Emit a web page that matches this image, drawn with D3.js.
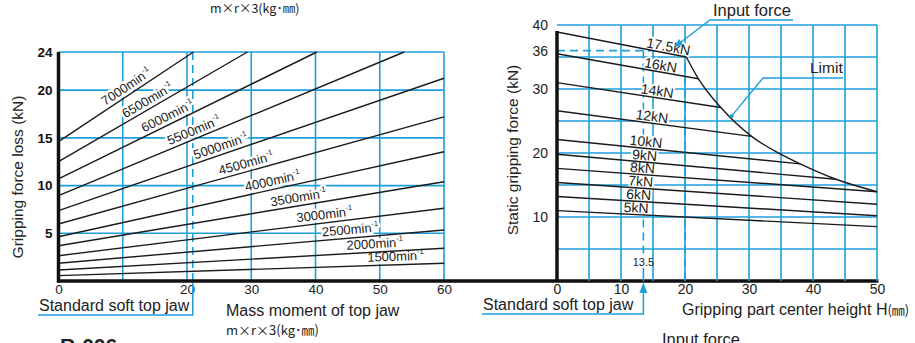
<!DOCTYPE html>
<html><head><meta charset="utf-8">
<script src="https://cdn.jsdelivr.net/npm/d3@7"></script>
<style>
html,body{margin:0;padding:0;background:#fff;}
svg{display:block;font-family:"Liberation Sans",Arial,Helvetica,sans-serif;}
</style></head><body>
<svg id="c" width="915" height="343"></svg>
<script>
// ---------- DATA: left chart (gripping force loss vs mass moment of top jaw) ----------
const speeds        = [7000, 6500, 6000, 5500, 5000, 4500, 4000, 3500, 3000, 2500, 2000, 1500];
const lossAtZero    = [14.6, 12.5, 10.7, 8.94, 7.37, 5.97, 4.64, 3.70, 2.65, 1.86, 1.15, 0.56];
const lossEndMoment = [21.0, 29.4, 40.2, 53.8, 60, 60, 60, 60, 60, 60, 60, 60];
const lossEndValue  = [24, 24, 24, 24, 21.25, 17.2, 13.55, 10.4, 7.62, 5.35, 3.43, 1.86];
const leftXTicks    = [0, 20, 30, 40, 50, 60];
const leftYTicks    = [5, 10, 15, 20, 24];
const leftGridX     = [10, 20, 30, 40, 50, 60];
const leftGridY     = [5, 10, 15, 20, 24];
const stdJawMoment  = 20.9;

// ---------- DATA: right chart (static gripping force vs gripping part center height) ----------
const inputForces   = ["17.5kN", "16kN", "14kN", "12kN", "10kN", "9kN", "8kN", "7kN", "6kN", "5kN"];
const gripAtZero    = [38.9, 35.5, 31.0, 26.6, 22.1, 19.8, 17.6, 15.4, 13.2, 11.0];
const gripEndH      = [20.2, 22.1, 25.6, 30.4, 38.0, 43.6, 50, 50, 50, 50];
const gripEndValue  = [35.0, 31.6, 27.1, 22.6, 18.3, 15.9, 13.95, 12.0, 10.2, 8.5];
const limitH        = [20.2, 22.1, 25.6, 30.4, 34.8, 38.0, 43.6, 50];
const limitF        = [35.0, 31.6, 27.1, 22.6, 19.9, 18.3, 15.9, 13.95];
const rightXTicks   = [0, 10, 20, 30, 40, 50];
const rightYTicks   = [10, 20, 30, 36, 40];
const rightGridX    = [5, 10, 15, 20, 25, 30, 35, 40, 45, 50];
const rightGridY    = [5, 10, 15, 20, 25, 30, 35, 40];
const stdJawH       = 13.5;
const refForce      = 36;
const refH          = 20;

// ---------- SETUP ----------
const BLUE = "#1c9fdb", INK = "#1b1b1b";
const svg = d3.select("#c");
const xL = d3.scaleLinear().domain([0, 60]).range([58.5, 444]);
const yL = d3.scaleLinear().domain([0, 24]).range([281, 52]);
const xR = d3.scaleLinear().domain([0, 50]).range([557, 877]);
const yR = d3.scaleLinear().domain([0, 40]).range([281, 25]);

function halo(sel, w) {
  return sel.attr("stroke", "#fff").attr("stroke-width", w).attr("paint-order", "stroke").attr("stroke-linejoin", "round");
}

// top cropped caption
svg.append("text").attr("x", 210).attr("y", 13).attr("font-size", 12.5)
  .attr("font-family", "'Noto Sans CJK JP',sans-serif").attr("fill", "#222").text("m×r×3(kg･㎜)");

// ================= LEFT CHART =================
const gL = svg.append("g");
gL.selectAll(".gx").data(leftGridX).join("line")
  .attr("x1", d => xL(d)).attr("x2", d => xL(d)).attr("y1", yL(0)).attr("y2", yL(24))
  .attr("stroke", BLUE).attr("stroke-width", 1.6);
gL.selectAll(".gy").data(leftGridY).join("line")
  .attr("x1", xL(0)).attr("x2", xL(60)).attr("y1", d => yL(d)).attr("y2", d => yL(d))
  .attr("stroke", BLUE).attr("stroke-width", 1.6);
gL.append("line").attr("x1", xL(stdJawMoment)).attr("x2", xL(stdJawMoment)).attr("y1", yL(24)).attr("y2", yL(0))
  .attr("stroke", BLUE).attr("stroke-width", 1.6).attr("stroke-dasharray", "8,5");

// labels (with white halo to cut the grid)
const labelAtL = [7.6, 10.7, 13.6, 17.5, 21.5, 25.3, 29.3, 33.2, 37.2, 41.1, 44.9, 48.1];
speeds.forEach((s, i) => {
  const slope = (lossEndValue[i] - lossAtZero[i]) / (lossEndMoment[i]);
  const mx = labelAtL[i], my = lossAtZero[i] + slope * mx;
  const ang = Math.atan2(yL(lossAtZero[i] + slope * 10) - yL(lossAtZero[i]), xL(10) - xL(0)) * 180 / Math.PI;
  const t = gL.append("text")
    .attr("transform", `translate(${xL(mx)},${yL(my)}) rotate(${ang})`)
    .attr("dy", -4).attr("font-size", 13).attr("fill", INK);
  halo(t, 5);
  t.append("tspan").text(s + "min");
  t.append("tspan").attr("dy", -6).attr("font-size", 7.5).text("-1");
});

// lines
speeds.forEach((s, i) => {
  gL.append("path")
    .attr("d", d3.line()([[xL(0), yL(lossAtZero[i])], [xL(lossEndMoment[i]), yL(lossEndValue[i])]]))
    .attr("stroke", INK).attr("stroke-width", 1.4).attr("fill", "none");
});

// axes tick labels
const axL = gL.append("g").attr("transform", `translate(${xL(0)},0)`)
  .call(d3.axisLeft(yL).tickValues(leftYTicks).tickSize(0).tickPadding(6));
axL.select(".domain").remove();
axL.selectAll("text").attr("font-size", 13.5).attr("font-weight", "bold").attr("fill", "#111")
  .attr("font-family", "'Liberation Sans',Arial,sans-serif");
const axLB = gL.append("g").attr("transform", `translate(0,${yL(0)})`)
  .call(d3.axisBottom(xL).tickValues(leftXTicks).tickSize(0).tickPadding(3));
axLB.select(".domain").remove();
axLB.selectAll("text").attr("font-size", 13.5).attr("fill", "#222")
  .attr("font-family", "'Liberation Sans',Arial,sans-serif");

// thick axes
gL.append("line").attr("x1", xL(0)).attr("x2", xL(0)).attr("y1", yL(24)).attr("y2", yL(0) + 1.5)
  .attr("stroke", "#111").attr("stroke-width", 3.5);
svg.append("line").attr("x1", xL(0) - 1.5).attr("x2", xR(50) + 1.5).attr("y1", yL(0)).attr("y2", yL(0))
  .attr("stroke", "#111").attr("stroke-width", 3.5);

// titles
svg.append("text").attr("transform", `translate(23,177) rotate(-90)`).attr("text-anchor", "middle")
  .attr("font-size", 15.5).attr("fill", "#222").text("Gripping force loss (kN)");
svg.append("text").attr("x", 226).attr("y", 316).attr("font-size", 16).attr("fill", "#222").text("Mass moment of top jaw");
svg.append("text").attr("x", 226).attr("y", 335).attr("font-size", 13)
  .attr("font-family", "'Noto Sans CJK JP',sans-serif").attr("fill", "#222").text("m×r×3(kg･㎜)");

// standard soft top jaw bracket (left)
svg.append("text").attr("x", 39).attr("y", 311).attr("font-size", 16).attr("fill", "#222").text("Standard soft top jaw");
svg.append("path").attr("d", d3.line()([[38, 315], [xL(stdJawMoment), 315], [xL(stdJawMoment), yL(0) + 2]]))
  .attr("stroke", BLUE).attr("stroke-width", 1.5).attr("fill", "none");

// cropped page marker
svg.append("text").attr("x", 60).attr("y", 353).attr("font-size", 21).attr("font-weight", "bold").attr("fill", "#222").text("R-006");

// ================= RIGHT CHART =================
const gR = svg.append("g");
gR.selectAll(".gx").data(rightGridX).join("line")
  .attr("x1", d => xR(d)).attr("x2", d => xR(d)).attr("y1", yR(0)).attr("y2", yR(40))
  .attr("stroke", BLUE).attr("stroke-width", 1.6);
gR.selectAll(".gy").data(rightGridY).join("line")
  .attr("x1", xR(0)).attr("x2", xR(50)).attr("y1", d => yR(d)).attr("y2", d => yR(d))
  .attr("stroke", BLUE).attr("stroke-width", 1.6);
// dashed reference lines
gR.append("line").attr("x1", xR(0)).attr("x2", xR(refH)).attr("y1", yR(refForce)).attr("y2", yR(refForce))
  .attr("stroke", BLUE).attr("stroke-width", 1.6).attr("stroke-dasharray", "8,5");
gR.append("line").attr("x1", xR(refH)).attr("x2", xR(refH)).attr("y1", yR(refForce)).attr("y2", yR(0))
  .attr("stroke", BLUE).attr("stroke-width", 1.6).attr("stroke-dasharray", "8,5");
gR.append("line").attr("x1", xR(stdJawH)).attr("x2", xR(stdJawH)).attr("y1", yR(refForce)).attr("y2", yR(4.1))
  .attr("stroke", BLUE).attr("stroke-width", 1.6).attr("stroke-dasharray", "8,5");
gR.append("line").attr("x1", xR(stdJawH)).attr("x2", xR(stdJawH)).attr("y1", yR(2.0)).attr("y2", yR(0))
  .attr("stroke", BLUE).attr("stroke-width", 1.6);
gR.append("text").attr("x", xR(stdJawH)).attr("y", yR(2.4)).attr("text-anchor", "middle")
  .attr("font-size", 11).attr("fill", "#222").text(String(stdJawH));

// labels
const labelAtR = [17.2, 16.0, 15.5, 14.7, 13.8, 13.6, 13.3, 13.0, 12.7, 12.3];
inputForces.forEach((f, i) => {
  const slope = (gripEndValue[i] - gripAtZero[i]) / gripEndH[i];
  const hx = labelAtR[i], hy = gripAtZero[i] + slope * hx;
  const ang = Math.atan2(yR(gripAtZero[i] + slope * 10) - yR(gripAtZero[i]), xR(10) - xR(0)) * 180 / Math.PI;
  const t = gR.append("text").attr("transform", `translate(${xR(hx)},${yR(hy)}) rotate(${ang})`)
    .attr("dy", -2).attr("text-anchor", "middle").attr("font-size", 14).attr("fill", INK).text(f);
  halo(t, 4);
});

// lines
inputForces.forEach((f, i) => {
  gR.append("path")
    .attr("d", d3.line()([[xR(0), yR(gripAtZero[i])], [xR(gripEndH[i]), yR(gripEndValue[i])]]))
    .attr("stroke", INK).attr("stroke-width", 1.4).attr("fill", "none");
});
// limit curve
gR.append("path")
  .attr("d", d3.line().x(d => xR(d[0])).y(d => yR(d[1])).curve(d3.curveMonotoneX)(limitH.map((h, i) => [h, limitF[i]])))
  .attr("stroke", INK).attr("stroke-width", 1.4).attr("fill", "none");

// axes
const axR = gR.append("g").attr("transform", `translate(${xR(0)},0)`)
  .call(d3.axisLeft(yR).tickValues(rightYTicks).tickSize(0).tickPadding(9));
axR.select(".domain").remove();
axR.selectAll("text").attr("font-size", 14).attr("fill", "#222").attr("font-family", "'Liberation Sans',Arial,sans-serif");
const axRB = gR.append("g").attr("transform", `translate(0,${yR(0)})`)
  .call(d3.axisBottom(xR).tickValues(rightXTicks).tickSize(0).tickPadding(3));
axRB.select(".domain").remove();
axRB.selectAll("text").attr("font-size", 14).attr("fill", "#222").attr("font-family", "'Liberation Sans',Arial,sans-serif");
gR.append("line").attr("x1", xR(0)).attr("x2", xR(0)).attr("y1", 31).attr("y2", yR(0))
  .attr("stroke", "#111").attr("stroke-width", 3.5);

// titles
svg.append("text").attr("transform", `translate(518,150) rotate(-90)`).attr("text-anchor", "middle")
  .attr("font-size", 15.5).attr("fill", "#222").text("Static gripping force (kN)");
const tx = svg.append("text").attr("x", 682).attr("y", 315).attr("font-size", 16).attr("fill", "#222");
tx.append("tspan").text("Gripping part center height H");
tx.append("tspan").attr("font-family", "'Noto Sans CJK JP',sans-serif").attr("font-size", 13).text("(㎜)");

// standard soft top jaw bracket (right)
svg.append("defs").html(`<marker id="arr" viewBox="0 0 10 10" refX="9" refY="5" markerWidth="7" markerHeight="7" orient="auto-start-reverse"><path d="M0,1 L10,5 L0,9 z" fill="${BLUE}"/></marker>`);
svg.append("text").attr("x", 483).attr("y", 310).attr("font-size", 16).attr("fill", "#222").text("Standard soft top jaw");
svg.append("path").attr("d", d3.line()([[482, 314], [xR(stdJawH), 314], [xR(stdJawH), yR(0) + 3]]))
  .attr("stroke", BLUE).attr("stroke-width", 1.5).attr("fill", "none").attr("marker-end", "url(#arr)");

// annotations
svg.append("text").attr("x", 713).attr("y", 16).attr("font-size", 16.5).attr("fill", "#222").text("Input force");
svg.append("path").attr("d", d3.line()([[793, 20], [710, 20], [xR(18.4), yR(36.6)]]))
  .attr("stroke", BLUE).attr("stroke-width", 1.3).attr("fill", "none").attr("marker-end", "url(#arr)");
svg.append("text").attr("x", 810).attr("y", 73).attr("font-size", 15.5).attr("fill", "#222").text("Limit");
svg.append("path").attr("d", d3.line()([[843, 78], [763, 78], [xR(27.3), yR(25.8)]]))
  .attr("stroke", BLUE).attr("stroke-width", 1.3).attr("fill", "none");
svg.append("circle").attr("cx", xR(27.3)).attr("cy", yR(25.8)).attr("r", 2).attr("fill", BLUE);

// cropped caption of the next chart
svg.append("text").attr("x", 662).attr("y", 345).attr("font-size", 16.5).attr("fill", "#222").text("Input force");
</script>
</body></html>
